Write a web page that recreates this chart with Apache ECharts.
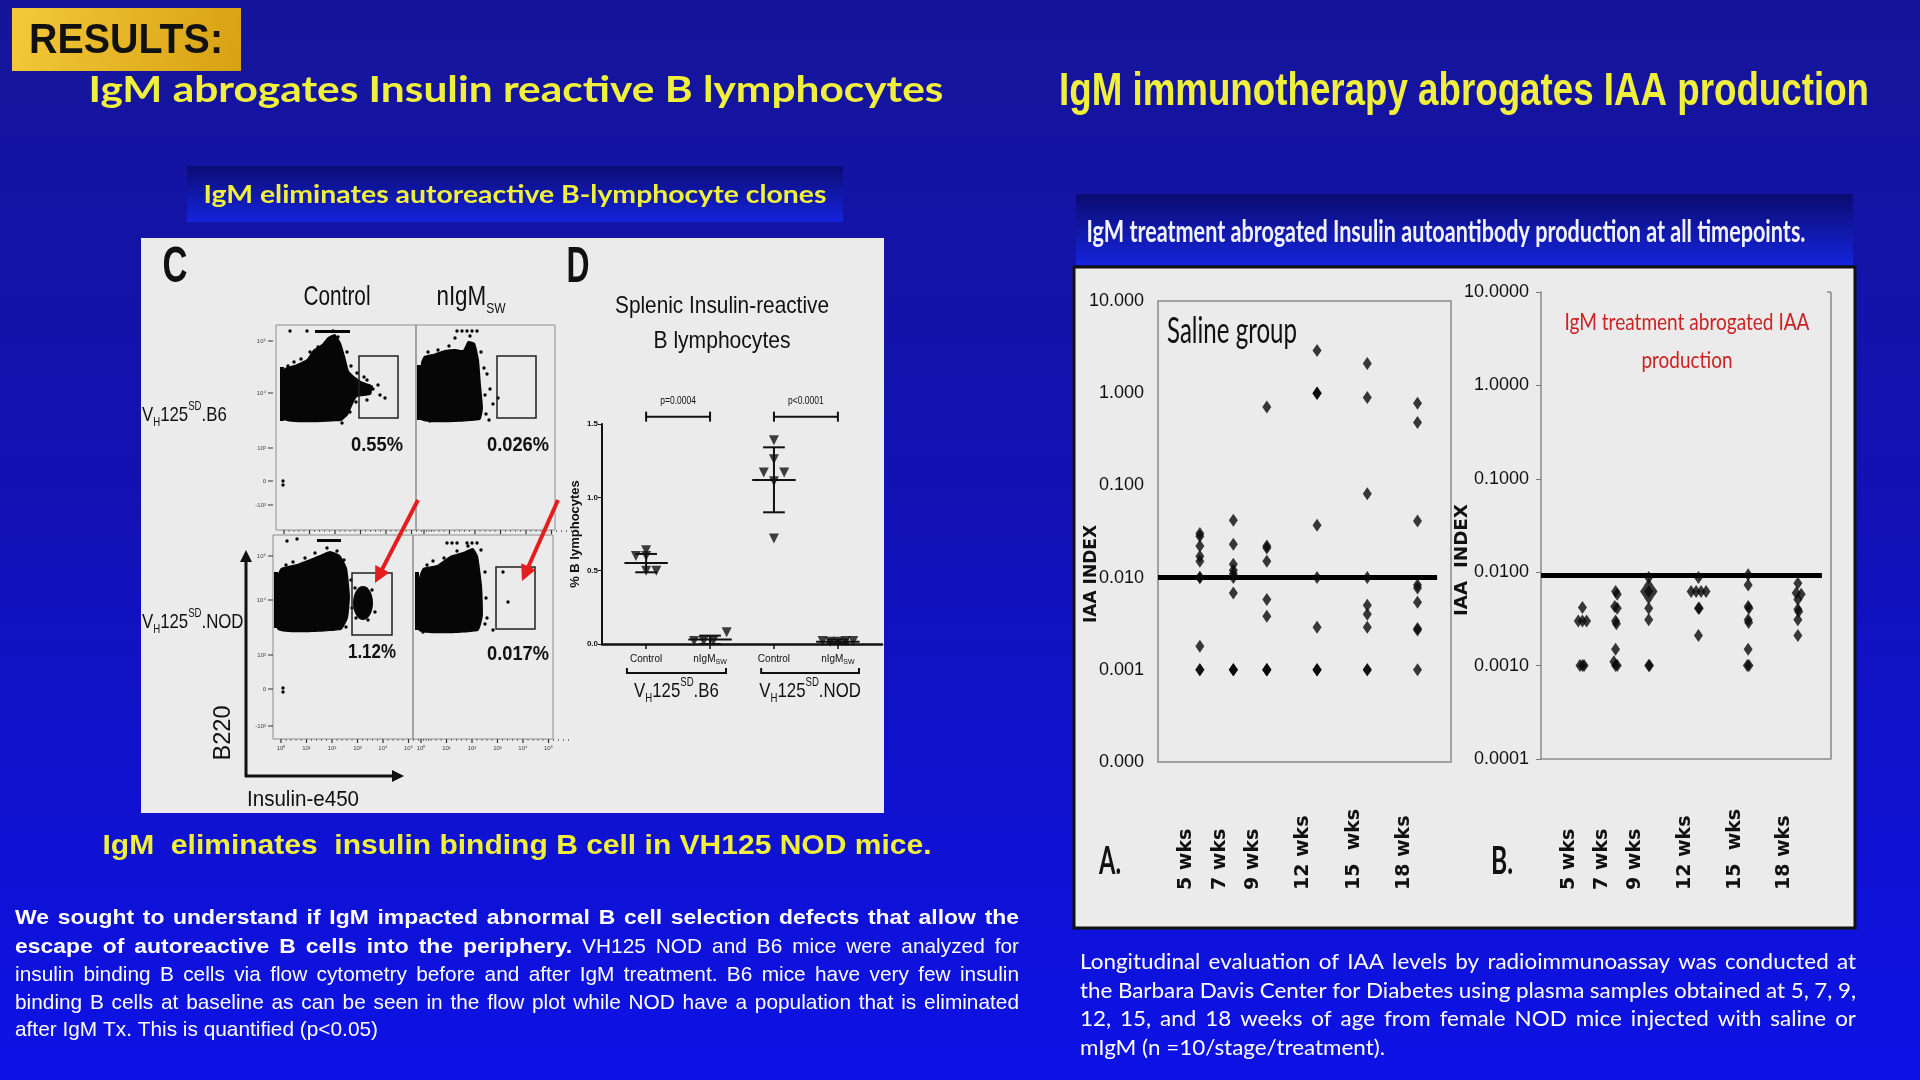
<!DOCTYPE html>
<html><head><meta charset="utf-8">
<script src="https://cdn.jsdelivr.net/npm/echarts@6/dist/echarts.min.js"></script>
<style>html,body{margin:0;padding:0;background:#1212b8;overflow:hidden}#c{width:1920px;height:1080px}</style>
</head><body><div id="c"></div>
<script>
// ================= DATA =================
// Right figure (IAA index, log scale) — x in weeks of age
const weeks = [5, 7, 9, 12, 15, 18];
const weekLabels = ['5 wks', '7 wks', '9 wks', '12 wks', '15  wks', '18 wks'];
const salineW5 = [0.030, 0.028, 0.022, 0.017, 0.015, 0.010, 0.010, 0.0018, 0.001, 0.001];
const salineW7 = [0.042, 0.023, 0.014, 0.012, 0.011, 0.010, 0.0068, 0.001, 0.001, 0.001];
const salineW9 = [0.71, 0.022, 0.021, 0.015, 0.0058, 0.0038, 0.001, 0.001, 0.001, 0.001];
const salineW12 = [2.9, 1.0, 1.0, 1.0, 0.037, 0.010, 0.0029, 0.001, 0.001, 0.001];
const salineW15 = [2.1, 0.90, 0.081, 0.010, 0.0050, 0.0040, 0.0029, 0.001, 0.001];
const salineW18 = [0.78, 0.48, 0.041, 0.0083, 0.0077, 0.0054, 0.0028, 0.0027, 0.001];
const igmW5 = [[5, 0.0042], [4.75, 0.0030], [5, 0.0030], [5.25, 0.0030], [4.85, 0.0010], [5.1, 0.0010], [5, 0.0010]];
const igmW7 = [[7, 0.0062], [7.1, 0.0058], [6.95, 0.0043], [7.1, 0.0041], [7, 0.0030], [7.05, 0.0028], [7, 0.0015], [6.9, 0.0011], [7, 0.0010], [7.1, 0.0010]];
const igmW9 = [[9, 0.0088], [9, 0.0073], [8.75, 0.0062], [9, 0.0062], [9.26, 0.0062], [9, 0.0053], [9, 0.0041], [9, 0.0031], [9, 0.0010], [9.05, 0.0010]];
const igmW12 = [[12, 0.0088], [11.56, 0.0062], [11.86, 0.0062], [12.16, 0.0062], [12.46, 0.0062], [12, 0.0041], [12.05, 0.0041], [12, 0.0021]];
const igmW15 = [[15, 0.0094], [15, 0.0073], [15, 0.0043], [15.05, 0.0041], [15, 0.0031], [15.03, 0.0029], [15, 0.0015], [14.95, 0.0010], [15.05, 0.0010]];
const igmW18 = [[18, 0.0076], [17.9, 0.0060], [18.2, 0.0058], [18, 0.0051], [18, 0.0040], [18.05, 0.0038], [18, 0.0031], [18, 0.0021]];
const salineThreshold = 0.010;
const igmThreshold = 0.0092;
const iaaMin = 0.0001, iaaMax = 10;

// Panel D (% B lymphocytes) — x = group index (with beeswarm spread)
const dCategories = ['Control', 'nIgM{s|SW}', 'Control', 'nIgM{s|SW}'];
const dGroups = ['V{s|H}125{p|SD}.B6', 'V{s|H}125{p|SD}.NOD'];
const dCtrlB6 = [[-0.16, 0.60], [0, 0.64], [0, 0.60], [0, 0.50], [0.16, 0.50]];
const dIgmB6 = [[0.75, 0.02], [0.9, 0.02], [1.05, 0.02], [1.26, 0.08]];
const dCtrlNOD = [[2, 1.39], [2, 1.26], [1.84, 1.17], [2.16, 1.17], [2, 1.11], [2, 0.72]];
const dIgmNOD = [[2.76, 0.02], [2.88, 0.015], [3, 0.015], [3.12, 0.02], [3.24, 0.02]];
const dMeanSD = [[0, 0.552, 0.489, 0.614], [1, 0.03, 0.0, 0.057], [2, 1.118, 0.898, 1.341], [3, 0.015, 0.005, 0.03]];
const dPValues = ['p=0.0004', 'p<0.0001'];
const dPPairs = [[0, 1, 1.55], [2, 3, 1.55]];
const dGroupSpans = [[-0.3, 1.25], [1.8, 3.33]];

// Panel C (flow cytometry gates)
const flowPercents = ['0.55%', '0.026%', '1.12%', '0.017%'];
const flowCols = ['Control', 'nIgM{s|SW}'];
const flowRows = ['V{s|H}125{p|SD}.B6', 'V{s|H}125{p|SD}.NOD'];

// ================= HELPERS =================
const YEL = '#f0f03c';
const FN = "'Liberation Sans', Arial, sans-serif";
const FC = "Lato, 'Open Sans', sans-serif";
const mctx = document.createElement('canvas').getContext('2d');
function tw(text, font) { mctx.font = font; return mctx.measureText(text).width; }
function T(text, x, y, o) {
  o = o || {};
  const size = o.size || 20, weight = o.weight || 'normal', fam = o.family || FN;
  const font = weight + ' ' + size + 'px ' + fam;
  let sx = 1;
  if (o.w) sx = o.w / tw(text, font);
  const al = o.align || 'left';
  return { type: 'text', x: x, y: y, z: o.z || 60, scaleX: sx, scaleY: 1, originX: 0, originY: 0,
    rotation: o.rot || 0, silent: true,
    style: { text: text, font: font, fill: o.color || '#111', align: al, textAlign: al,
      verticalAlign: 'middle', textVerticalAlign: 'middle' } };
}
function R(text, x, y, o) {
  const size = o.size || 20, fam = o.family || FN, col = o.color || '#111', small = Math.round(size * 0.55);
  return { type: 'text', x: x, y: y, z: 60, scaleX: o.sx || 1, originX: 0, originY: 0, rotation: o.rot || 0, silent: true,
    style: { text: text, align: o.align || 'left', textAlign: o.align || 'left', verticalAlign: 'middle', textVerticalAlign: 'middle',
      rich: {
        a: { font: size + 'px ' + fam, fill: col, lineHeight: Math.round(size * 1.35) },
        s: { font: small + 'px ' + fam, fill: col, verticalAlign: 'bottom' },
        p: { font: small + 'px ' + fam, fill: col, verticalAlign: 'top' }
      } } };
}
function richWrap(str) {
  return str.split(/(\{[sp]\|[^}]*\})/).filter(Boolean).map(p => p.charAt(0) === '{' ? p : '{a|' + p + '}').join('');
}
function para(lines, x0, x1, ys, size, fam, color, lastW) {
  const out = [];
  const fontOf = b => (b ? 'bold ' : 'normal ') + size + 'px ' + fam;
  const last = lines[lines.length - 1];
  const lastText = last.segs.map(s => s.t).join(' ');
  const s = lastW / tw(lastText, fontOf(0));
  // condensation for bold text: a fully bold justified line fits the width with normal spacing
  const boldLine = lines.find(l => l.segs.length === 1 && l.segs[0].b);
  const sb = boldLine ? Math.min(s * 1.1, (x1 - x0) / tw(boldLine.segs[0].t, fontOf(1)) * 0.995) : s;
  const space = tw(' ', fontOf(0)) * s;
  lines.forEach((ln, i) => {
    const words = [];
    ln.segs.forEach(sg => sg.t.split(' ').filter(Boolean).forEach(w => words.push({ t: w, font: fontOf(sg.b), sc: sg.b ? sb : s })));
    words.forEach(w => { w.w = tw(w.t, w.font) * w.sc; });
    const total = words.reduce((a, w) => a + w.w, 0);
    const gap = ln.j ? (x1 - x0 - total) / (words.length - 1) : space;
    let x = x0;
    words.forEach(w => {
      out.push({ type: 'text', x: x, y: ys[i], z: 60, scaleX: w.sc, originX: 0, originY: 0, silent: true,
        style: { text: w.t, font: w.font, fill: color, align: 'left', textAlign: 'left', verticalAlign: 'middle', textVerticalAlign: 'middle' } });
      x += w.w + gap;
    });
  });
  return out;
}
function arrow(x1, y1, x2, y2, color, w, hl, hw) {
  const dx = x2 - x1, dy = y2 - y1, L = Math.hypot(dx, dy), ux = dx / L, uy = dy / L;
  const bx = x2 - ux * hl, by = y2 - uy * hl, px = -uy, py = ux;
  return [
    { type: 'line', z: 45, silent: true, shape: { x1: x1, y1: y1, x2: bx + ux * 2, y2: by + uy * 2 }, style: { stroke: color, lineWidth: w } },
    { type: 'polygon', z: 45, silent: true, shape: { points: [[x2, y2], [bx + px * hw, by + py * hw], [bx - px * hw, by - py * hw]] }, style: { fill: color } }
  ];
}
function rect(x, y, w, h, st, z) { return { type: 'rect', z: z || 0, silent: true, shape: { x: x, y: y, width: w, height: h }, style: st }; }
function blob(points) { return { type: 'polygon', z: 30, silent: true, shape: { points: points, smooth: 0.15 }, style: { fill: '#060606' } }; }
function dots(list, r) { return list.map(p => ({ type: 'circle', z: 31, silent: true, shape: { cx: p[0], cy: p[1], r: r || 1.7 }, style: { fill: '#060606' } })); }
function vgrad(c0, c1) { return { type: 'linear', x: 0, y: 0, x2: 0, y2: 1, colorStops: [{ offset: 0, color: c0 }, { offset: 1, color: c1 }] }; }

// ================= CHART =================
const chart = echarts.init(document.getElementById('c'), null, { width: 1920, height: 1080 });
const axisFontR = { fontFamily: FN, fontSize: 18, color: '#111' };
const wkLabel = {
  customValues: weeks, formatter: v => weekLabels[weeks.indexOf(v)], rotate: 90, align: 'left', verticalAlign: 'bottom',
  padding: [0, 0, 4, 0], fontFamily: "'DejaVu Sans', sans-serif", fontWeight: 'bold', fontSize: 19, color: '#111'
};
const diamond = { type: 'scatter', symbol: 'diamond', symbolSize: [9, 13], itemStyle: { color: '#0a0a0a' }, silent: true, z: 5 };
const tri = { type: 'scatter', xAxisIndex: 0, yAxisIndex: 0, symbol: 'triangle', symbolRotate: 180, symbolSize: 10, itemStyle: { color: '#111' }, silent: true, z: 5 };
const salineAll = [salineW5, salineW7, salineW9, salineW12, salineW15, salineW18];
const igmAll = [igmW5, igmW7, igmW9, igmW12, igmW15, igmW18];

const series = [];
[dCtrlB6, dIgmB6, dCtrlNOD, dIgmNOD].forEach((d, i) => series.push(Object.assign({}, tri, { name: 'D' + i, data: d })));
series.push({
  type: 'custom', xAxisIndex: 0, yAxisIndex: 0, data: dMeanSD, silent: true, z: 6,
  renderItem: function (params, api) {
    const x = api.value(0);
    const m = api.coord([x, api.value(1)]), lo = api.coord([x, api.value(2)]), hi = api.coord([x, api.value(3)]);
    const hw = api.size([0.34, 0])[0], cw = api.size([0.17, 0])[0];
    const st = { stroke: '#111', lineWidth: 2 };
    return { type: 'group', children: [
      { type: 'line', shape: { x1: m[0] - hw, y1: m[1], x2: m[0] + hw, y2: m[1] }, style: st },
      { type: 'line', shape: { x1: m[0], y1: lo[1], x2: m[0], y2: hi[1] }, style: st },
      { type: 'line', shape: { x1: m[0] - cw, y1: lo[1], x2: m[0] + cw, y2: lo[1] }, style: st },
      { type: 'line', shape: { x1: m[0] - cw, y1: hi[1], x2: m[0] + cw, y2: hi[1] }, style: st }
    ] };
  }
});
series.push({
  type: 'custom', xAxisIndex: 0, yAxisIndex: 0, data: dPPairs, silent: true, clip: false, z: 6,
  renderItem: function (params, api) {
    const a = api.coord([api.value(0), api.value(2)]), b = api.coord([api.value(1), api.value(2)]);
    const st = { stroke: '#111', lineWidth: 2 };
    return { type: 'group', children: [
      { type: 'line', shape: { x1: a[0], y1: a[1], x2: b[0], y2: b[1] }, style: st },
      { type: 'line', shape: { x1: a[0], y1: a[1] - 5, x2: a[0], y2: a[1] + 5 }, style: st },
      { type: 'line', shape: { x1: b[0], y1: b[1] - 5, x2: b[0], y2: b[1] + 5 }, style: st },
      { type: 'text', x: (a[0] + b[0]) / 2, y: a[1] - 15, scaleX: 0.85,
        style: { text: dPValues[params.dataIndex], font: '10px ' + FN, fill: '#111', align: 'center', textAlign: 'center', verticalAlign: 'middle', textVerticalAlign: 'middle' } }
    ] };
  }
});
salineAll.forEach((vals, i) => {
  const s = Object.assign({}, diamond, { name: 'Saline ' + weekLabels[i], xAxisIndex: 1, yAxisIndex: 1, data: vals.map(v => [weeks[i], v]) });
  if (i === 0) s.markLine = { silent: true, symbol: 'none', label: { show: false }, lineStyle: { color: '#000', width: 5, type: 'solid' },
    data: [[{ coord: [2.5, salineThreshold] }, { coord: [19.17, salineThreshold] }]] };
  series.push(s);
});
igmAll.forEach((d, i) => {
  const s = Object.assign({}, diamond, { name: 'IgM ' + weekLabels[i], xAxisIndex: 2, yAxisIndex: 2, data: d });
  if (i === 0) s.markLine = { silent: true, symbol: 'none', label: { show: false }, lineStyle: { color: '#000', width: 5, type: 'solid' },
    data: [[{ coord: [2.5, igmThreshold] }, { coord: [19.45, igmThreshold] }]] };
  series.push(s);
});

const option = {
  animation: false,
  backgroundColor: 'transparent',
  grid: [
    { left: 602, top: 424, width: 280, height: 220, outerBoundsMode: 'none' },
    { left: 1158, top: 301, width: 293, height: 461, show: true, borderColor: '#8a8a8a', borderWidth: 1.5, backgroundColor: 'transparent', outerBoundsMode: 'none' },
    { left: 1541, top: 292, width: 290, height: 467, outerBoundsMode: 'none' }
  ],
  xAxis: [
    { gridIndex: 0, type: 'value', min: -0.69, max: 3.69, splitLine: { show: false },
      axisLine: { show: true, onZero: false, lineStyle: { color: '#111', width: 2.5 } },
      axisTick: { show: true, customValues: [0, 1, 2, 3], length: 5, lineStyle: { color: '#111', width: 1.5 } },
      axisLabel: { customValues: [0, 1, 2, 3], formatter: v => richWrap(dCategories[Math.round(v)]), margin: 8, color: '#111',
        rich: { a: { fontFamily: FN, fontSize: 10, color: '#111', lineHeight: 14 }, s: { fontFamily: FN, fontSize: 7, color: '#111', verticalAlign: 'bottom' } } } },
    { gridIndex: 1, type: 'value', min: 2.5, max: 20, splitLine: { show: false }, axisLine: { show: false }, axisTick: { show: false },
      axisLabel: Object.assign({ margin: 128 }, wkLabel) },
    { gridIndex: 2, type: 'value', min: 2.5, max: 20, splitLine: { show: false },
      axisLine: { show: true, onZero: false, lineStyle: { color: '#8a8a8a', width: 1.5 } }, axisTick: { show: false },
      axisLabel: Object.assign({ margin: 131 }, wkLabel) }
  ],
  yAxis: [
    { gridIndex: 0, type: 'value', min: 0, max: 1.5, interval: 0.5, splitLine: { show: false },
      axisLine: { show: true, onZero: false, lineStyle: { color: '#111', width: 2 } }, axisTick: { show: true, length: 4, lineStyle: { color: '#111' } },
      axisLabel: { fontFamily: FN, fontSize: 8, fontWeight: 'bold', color: '#111', margin: 4, formatter: v => v.toFixed(1) },
      name: '% B lymphocytes', nameLocation: 'middle', nameRotate: 90, nameGap: 20,
      nameTextStyle: { fontFamily: FN, fontSize: 13, fontWeight: 'bold', color: '#111' } },
    { gridIndex: 1, type: 'log', logBase: 10, min: iaaMin, max: iaaMax, splitLine: { show: false }, axisLine: { show: false }, axisTick: { show: false },
      axisLabel: Object.assign({ margin: 14, formatter: v => Number(v).toFixed(3) }, axisFontR) },
    { gridIndex: 2, type: 'log', logBase: 10, min: iaaMin, max: iaaMax, splitLine: { show: false },
      axisLine: { show: true, onZero: false, lineStyle: { color: '#8a8a8a', width: 1.5 } }, axisTick: { show: true, length: 5, lineStyle: { color: '#777' } },
      axisLabel: Object.assign({ margin: 12, formatter: v => Number(v).toFixed(4) }, axisFontR) }
  ],
  series: series
};
chart.setOption(option);

// ================= STATIC GRAPHICS / ANNOTATIONS =================
const g = [];
g.push(rect(0, 0, 1920, 1080, { fill: { type: 'linear', x: 0, y: 0, x2: 0, y2: 1, colorStops: [
  { offset: 0, color: '#15159a' }, { offset: 0.45, color: '#1212b4' }, { offset: 1, color: '#0d12e6' }] } }, -100));
g.push(rect(12, 8, 229, 63, { fill: { type: 'linear', x: 0, y: 0, x2: 1, y2: 1, colorStops: [{ offset: 0, color: '#f3c93a' }, { offset: 1, color: '#d7a112' }] } }, -90));
g.push(T('RESULTS:', 126, 41, { size: 42, weight: 'bold', family: FN, w: 194, align: 'center', color: '#111' }));
g.push(T('IgM abrogates Insulin reactive B lymphocytes', 516, 90, { size: 37, weight: 'bold', family: FC, w: 855, align: 'center', color: YEL }));
g.push(T('IgM immunotherapy abrogates IAA production', 1464, 92, { size: 46, weight: 'bold', family: FN, w: 810, align: 'center', color: YEL }));
g.push(rect(187, 166, 656, 56, { fill: vgrad('#0c0c74', '#1424dc') }, -90));
g.push(T('IgM eliminates autoreactive B-lymphocyte clones', 515, 195, { size: 25, weight: 'bold', family: FC, w: 623, align: 'center', color: YEL }));
g.push(rect(1076, 194, 777, 71, { fill: vgrad('#0c0c70', '#1424dc') }, -90));
g.push(T('IgM treatment abrogated Insulin autoantibody production at all timepoints.', 1446, 232, { size: 30, weight: 'bold', family: FC, w: 719, align: 'center', color: '#f2f2ff' }));
g.push(rect(141, 238, 743, 575, { fill: '#ebebeb' }, -50));
g.push(rect(1074, 267, 781, 661, { fill: '#ebebeb', stroke: '#111', lineWidth: 3 }, -50));
g.push(T('IgM  eliminates  insulin binding B cell in VH125 NOD mice.', 517, 846, { size: 28, weight: 'bold', family: FN, w: 829, align: 'center', color: YEL }));
const leftPara = [
  { segs: [{ t: 'We sought to understand if IgM impacted abnormal B cell selection defects that allow the', b: 1 }], j: 1 },
  { segs: [{ t: 'escape of autoreactive B cells into the periphery.', b: 1 }, { t: 'VH125 NOD and B6 mice were analyzed for', b: 0 }], j: 1 },
  { segs: [{ t: 'insulin binding B cells via flow cytometry before and after IgM treatment. B6 mice have very few insulin', b: 0 }], j: 1 },
  { segs: [{ t: 'binding B cells at baseline as can be seen in the flow plot while NOD have a population that is eliminated', b: 0 }], j: 1 },
  { segs: [{ t: 'after IgM Tx. This is quantified (p<0.05)', b: 0 }], j: 0 }
];
para(leftPara, 15, 1019, [918, 947, 975, 1003, 1030], 21, FN, '#ffffff', 363).forEach(e => g.push(e));
const rightPara = [
  { segs: [{ t: 'Longitudinal evaluation of IAA levels by radioimmunoassay was conducted at', b: 0 }], j: 1 },
  { segs: [{ t: 'the Barbara Davis Center for Diabetes using plasma samples obtained at 5, 7, 9,', b: 0 }], j: 1 },
  { segs: [{ t: '12, 15, and 18 weeks of age from female NOD mice injected with saline or', b: 0 }], j: 1 },
  { segs: [{ t: 'mIgM (n =10/stage/treatment).', b: 0 }], j: 0 }
];
para(rightPara, 1080, 1856, [962, 991, 1019, 1048], 21, FC, '#ffffff', 305).forEach(e => g.push(e));

// ---- Panel C (flow cytometry) ----
g.push(T('C', 175, 268, { size: 50, weight: 'bold', family: FN, w: 25, align: 'center' }));
g.push(T(flowCols[0], 337, 297, { size: 28, family: FN, w: 67, align: 'center' }));
g.push(R(richWrap(flowCols[1]), 471, 297, { size: 28, sx: 0.8, align: 'center' }));
g.push(R(richWrap(flowRows[0]), 142, 415, { size: 21, sx: 0.8 }));
g.push(R(richWrap(flowRows[1]), 142, 622, { size: 21, sx: 0.8 }));
const boxSt = { fill: 'none', stroke: '#8c8c8c', lineWidth: 1 };
g.push(rect(276, 325, 140, 205, boxSt, 20), rect(416, 325, 139, 205, boxSt, 20), rect(273, 535, 140, 204, boxSt, 20), rect(413, 535, 140, 204, boxSt, 20));
[[276, 530], [416, 530], [273, 739], [413, 739]].forEach(p => {
  for (let k = 0; k < 6; k++) {
    const x = p[0] + 8 + k * 25.5;
    g.push({ type: 'line', z: 21, silent: true, shape: { x1: x, y1: p[1], x2: x, y2: p[1] + 4 }, style: { stroke: '#333', lineWidth: 1.2 } });
    for (let m = 1; m < 5; m++) g.push({ type: 'line', z: 21, silent: true, shape: { x1: x + m * 5, y1: p[1], x2: x + m * 5, y2: p[1] + 2 }, style: { stroke: '#555', lineWidth: 0.8 } });
    if (p[1] > 700) g.push(T('10' + ['⁰', '¹', '²', '³', '⁴', '⁵'][k], x, p[1] + 9, { size: 6, family: FN, align: 'center', color: '#444' }));
  }
});
[[325, [341, 393, 448, 481, 505]], [535, [556, 600, 655, 689, 726]]].forEach(r => {
  ['10⁵', '10⁴', '10³', '0', '-10³'].forEach((t, k) => {
    g.push(T(t, 266, r[1][k], { size: 6, family: FN, align: 'right', color: '#444' }));
    g.push({ type: 'line', z: 21, silent: true, shape: { x1: 268, y1: r[1][k], x2: 273, y2: r[1][k] }, style: { stroke: '#333', lineWidth: 1 } });
  });
});
g.push(blob([[284, 369], [297, 364], [307, 359], [313, 350], [322, 344], [328, 337], [335, 334], [341, 343], [345, 356], [349, 371], [354, 376], [361, 381], [373, 386], [370, 395], [357, 397], [353, 404], [348, 415], [341, 421], [284, 420]]));
g.push(rect(280, 367, 4, 54, { fill: '#060606' }, 31));
g.push(rect(315, 330, 35, 3, { fill: '#060606' }, 31));
g.push(...dots([[367, 380], [373, 389], [378, 385], [370, 393], [380, 395], [385, 398], [367, 400], [290, 331], [307, 331], [337, 345], [283, 481], [283, 485],
  [288, 366], [294, 362], [301, 359], [310, 352], [318, 347], [333, 331], [338, 337], [347, 352], [351, 366], [357, 373], [364, 377], [356, 402], [350, 412], [342, 423]]));
g.push(blob([[421, 363], [424, 356], [433, 354], [445, 350], [455, 349], [463, 350], [468, 341], [475, 343], [479, 360], [481, 385], [483, 408], [480, 420], [421, 420]]));
g.push(rect(417, 365, 4, 55, { fill: '#060606' }, 31));
g.push(...dots([[487, 374], [490, 389], [493, 404], [498, 398], [457, 331], [462, 331], [467, 331], [472, 331], [477, 331], [455, 338],
  [428, 352], [438, 350], [449, 346], [470, 336], [481, 352], [484, 368], [485, 395], [486, 414], [489, 420], [430, 421]]));
g.push(blob([[277, 577], [281, 568], [297, 564], [310, 559], [320, 555], [330, 551], [340, 555], [347, 568], [350, 596], [348, 618], [341, 630], [278, 630]]));
g.push({ type: 'ellipse', z: 30, silent: true, shape: { cx: 363, cy: 603, rx: 10, ry: 17 }, style: { fill: '#060606' } });
g.push(rect(274, 572, 4, 56, { fill: '#060606' }, 31));
g.push(rect(317, 539, 24, 3, { fill: '#060606' }, 31));
g.push(...dots([[287, 541], [297, 539], [372, 590], [375, 612], [283, 688], [283, 692],
  [286, 565], [293, 562], [305, 558], [315, 553], [327, 548], [337, 551], [344, 560], [351, 580], [352, 608], [346, 627], [355, 588], [356, 618], [368, 620]]));
g.push(blob([[419, 578], [423, 568], [437, 565], [450, 556], [463, 552], [473, 548], [478, 556], [482, 585], [483, 615], [478, 631], [419, 631]]));
g.push(rect(415, 572, 4, 58, { fill: '#060606' }, 31));
g.push(...dots([[503, 572], [508, 602], [487, 618], [493, 630], [447, 543], [452, 543], [457, 543], [467, 543], [472, 543], [477, 543],
  [427, 565], [433, 561], [444, 558], [457, 551], [468, 546], [481, 550], [485, 572], [486, 598], [485, 624], [423, 632]]));
const gateSt = { fill: 'none', stroke: '#222', lineWidth: 1.5 };
g.push(rect(359, 356, 39, 62, gateSt, 32), rect(497, 356, 39, 62, gateSt, 32), rect(352, 573, 40, 62, gateSt, 32), rect(496, 567, 39, 62, gateSt, 32));
g.push(T(flowPercents[0], 377, 445, { size: 20, weight: 'bold', family: FN, w: 52, align: 'center' }));
g.push(T(flowPercents[1], 518, 445, { size: 20, weight: 'bold', family: FN, w: 62, align: 'center' }));
g.push(T(flowPercents[2], 372, 652, { size: 20, weight: 'bold', family: FN, w: 48, align: 'center' }));
g.push(T(flowPercents[3], 518, 654, { size: 20, weight: 'bold', family: FN, w: 62, align: 'center' }));
g.push(...arrow(418, 500, 375, 583, '#e41e1e', 4, 16, 8));
g.push(...arrow(558, 500, 522, 581, '#e41e1e', 4, 16, 8));
g.push(...arrow(246, 777, 246, 550, '#111', 3, 12, 6));
g.push(...arrow(245, 776, 404, 776, '#111', 3, 12, 6));
g.push(T('B220', 223, 733, { size: 24, family: FN, w: 55, align: 'center', rot: Math.PI / 2 }));
g.push(T('Insulin-e450', 303, 800, { size: 22, family: FN, w: 112, align: 'center' }));

// ---- Panel D ----
g.push(T('D', 578, 268, { size: 50, weight: 'bold', family: FN, w: 23, align: 'center' }));
g.push(T('Splenic Insulin-reactive', 722, 306, { size: 24, family: FN, w: 214, align: 'center' }));
g.push(T('B lymphocytes', 722, 341, { size: 24, family: FN, w: 137, align: 'center' }));
dGroupSpans.forEach((sp, i) => {
  const a = chart.convertToPixel({ gridIndex: 0 }, [sp[0], 0]);
  const b = chart.convertToPixel({ gridIndex: 0 }, [sp[1], 0]);
  const y = a[1] + 29;
  g.push({ type: 'polyline', z: 40, silent: true, shape: { points: [[a[0], y - 5], [a[0], y], [b[0], y], [b[0], y - 5]] }, style: { stroke: '#111', lineWidth: 2, fill: null } });
  g.push(R(richWrap(dGroups[i]), (a[0] + b[0]) / 2, y + 18, { size: 21, sx: 0.8, align: 'center' }));
});

// ---- Right figure ----
g.push(T('Saline group', 1167, 331, { size: 36, family: FC, w: 130, align: 'left' }));
g.push(T('IgM treatment abrogated IAA', 1687, 322, { size: 24, family: FC, w: 245, align: 'center', color: '#cc2222' }));
g.push(T('production', 1687, 360, { size: 24, family: FC, w: 91, align: 'center', color: '#cc2222' }));
g.push(T('IAA INDEX', 1092, 574, { size: 17, weight: 'bold', family: "'DejaVu Sans', sans-serif", w: 98, align: 'center', rot: Math.PI / 2 }));
g.push(T('IAA  INDEX', 1463, 560, { size: 17, weight: 'bold', family: "'DejaVu Sans', sans-serif", w: 112, align: 'center', rot: Math.PI / 2 }));
g.push(T('A.', 1110, 862, { size: 38, weight: 'bold', family: FC, w: 22, align: 'center' }));
g.push(T('B.', 1502, 862, { size: 38, weight: 'bold', family: FC, w: 22, align: 'center' }));
const rTop = chart.convertToPixel({ gridIndex: 2 }, [20, iaaMax]);
const rBot = chart.convertToPixel({ gridIndex: 2 }, [20, iaaMin]);
g.push({ type: 'line', z: 20, silent: true, shape: { x1: rTop[0], y1: rTop[1], x2: rBot[0], y2: rBot[1] }, style: { stroke: '#8a8a8a', lineWidth: 1.5 } });
g.push({ type: 'line', z: 20, silent: true, shape: { x1: rTop[0] - 4, y1: rTop[1], x2: rTop[0], y2: rTop[1] }, style: { stroke: '#8a8a8a', lineWidth: 1.5 } });

chart.setOption({ graphic: { elements: g } });
</script></body></html>
